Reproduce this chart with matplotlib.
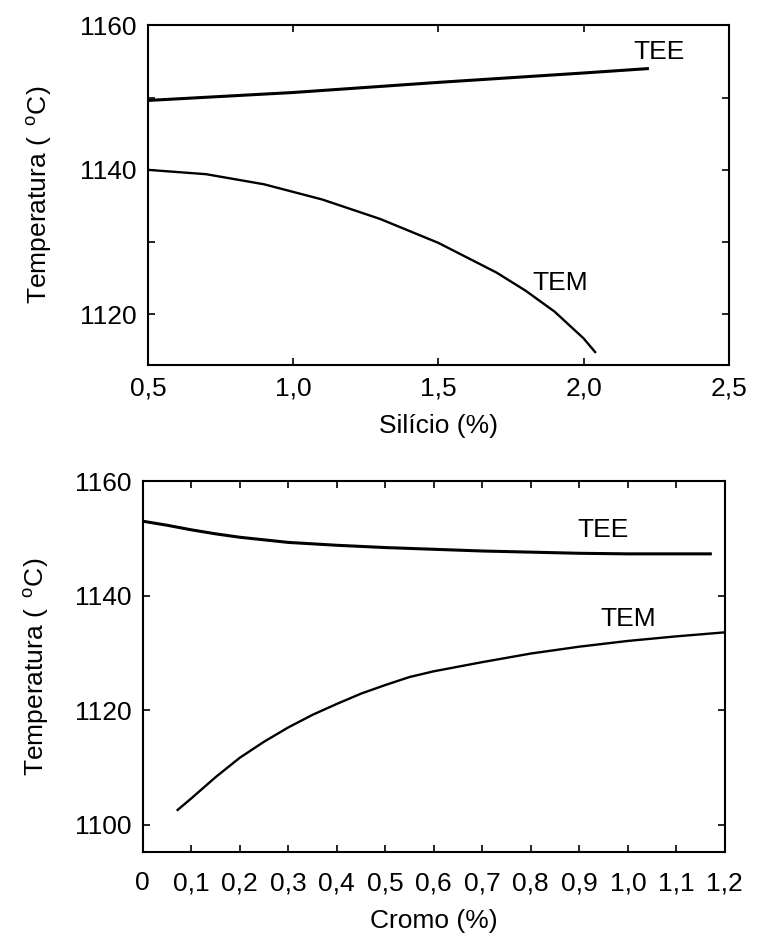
import matplotlib
matplotlib.use("Agg")
import matplotlib.pyplot as plt

plt.rcParams['font.family'] = ['Liberation Sans', 'DejaVu Sans']
plt.rcParams['mathtext.fontset'] = 'custom'
plt.rcParams['mathtext.rm'] = 'Liberation Sans'

# Silicio (curvas TEE y TEM)
si_tee_x = [0.5, 1.0, 1.5, 2.0, 2.22]
si_tee_y = [1149.6, 1150.7, 1152.1, 1153.4, 1154.0]
si_tem_x = [0.5, 0.7, 0.9, 1.1, 1.3, 1.5, 1.7, 1.8, 1.9, 2.0, 2.04]
si_tem_y = [1140.0, 1139.4, 1138.0, 1135.9, 1133.2, 1129.9, 1125.8, 1123.3, 1120.4, 1116.7, 1114.8]

# Cromo (curvas TEE y TEM)
cr_tee_x = [0.0, 0.05, 0.1, 0.15, 0.2, 0.3, 0.4, 0.5, 0.6, 0.7, 0.8, 0.9, 1.0, 1.17]
cr_tee_y = [1153.0, 1152.3, 1151.5, 1150.8, 1150.2, 1149.3, 1148.8, 1148.4, 1148.1,
            1147.8, 1147.6, 1147.4, 1147.3, 1147.3]
cr_tem_x = [0.072, 0.1, 0.15, 0.2, 0.25, 0.3, 0.35, 0.4, 0.45, 0.5, 0.55, 0.6,
            0.7, 0.8, 0.9, 1.0, 1.1, 1.2]
cr_tem_y = [1102.6, 1104.6, 1108.3, 1111.7, 1114.5, 1117.0, 1119.2, 1121.1, 1122.9,
            1124.4, 1125.8, 1126.8, 1128.4, 1129.9, 1131.1, 1132.1, 1132.9, 1133.6]

si_ticks = [0.5, 1.0, 1.5, 2.0, 2.5]
si_labels = ['0,5', '1,0', '1,5', '2,0', '2,5']
cr_ticks = [0.0, 0.1, 0.2, 0.3, 0.4, 0.5, 0.6, 0.7, 0.8, 0.9, 1.0, 1.1, 1.2]
cr_labels = ['0', '0,1', '0,2', '0,3', '0,4', '0,5', '0,6', '0,7', '0,8', '0,9', '1,0', '1,1', '1,2']

fig = plt.figure(figsize=(7.63, 9.36), dpi=100)
ax1 = fig.add_axes([0.194, 0.610, 0.761, 0.363])
ax2 = fig.add_axes([0.187, 0.090, 0.763, 0.396])

fs = 19
ylab = 'Temperatura ( $\\,^{\\mathrm{o}}$C)'

# grafico superior
ax1.plot(si_tee_x, si_tee_y, color='black', lw=2.2)
ax1.plot(si_tem_x, si_tem_y, color='black', lw=1.7)
ax1.text(2.26, 1156.3, 'TEE', fontsize=fs, ha='center', va='center')
ax1.text(1.92, 1124.4, 'TEM', fontsize=fs, ha='center', va='center')
ax1.set_xlim(0.5, 2.5)
ax1.set_ylim(1113, 1160)
ax1.set_xticks(si_ticks)
ax1.set_xticklabels(si_labels)
ax1.set_yticks([1120, 1140, 1160])
ax1.set_yticks([1130, 1150], minor=True)
ax1.set_xlabel('Silício (%)', fontsize=fs, labelpad=10)
ax1.set_ylabel(ylab, fontsize=fs, labelpad=19)

# grafico inferior
ax2.plot(cr_tee_x, cr_tee_y, color='black', lw=2.2)
ax2.plot(cr_tem_x, cr_tem_y, color='black', lw=1.7)
ax2.text(0.948, 1151.5, 'TEE', fontsize=fs, ha='center', va='center')
ax2.text(1.0, 1136.0, 'TEM', fontsize=fs, ha='center', va='center')
ax2.set_xlim(0, 1.2)
ax2.set_ylim(1095.3, 1160)
ax2.set_xticks(cr_ticks)
ax2.set_xticklabels(cr_labels)
ax2.set_yticks([1100, 1120, 1140, 1160])
ax2.set_xlabel('Cromo (%)', fontsize=fs, labelpad=10)
ax2.set_ylabel(ylab, fontsize=fs, labelpad=17)

for ax in (ax1, ax2):
    for s in ax.spines.values():
        s.set_linewidth(1.5)
    ax.tick_params(which='both', direction='in', top=True, right=True,
                   labelsize=fs, length=5, width=1.2, pad=8)
ax2.tick_params(axis='x', pad=14)

fig.savefig('out.png', dpi=100)
